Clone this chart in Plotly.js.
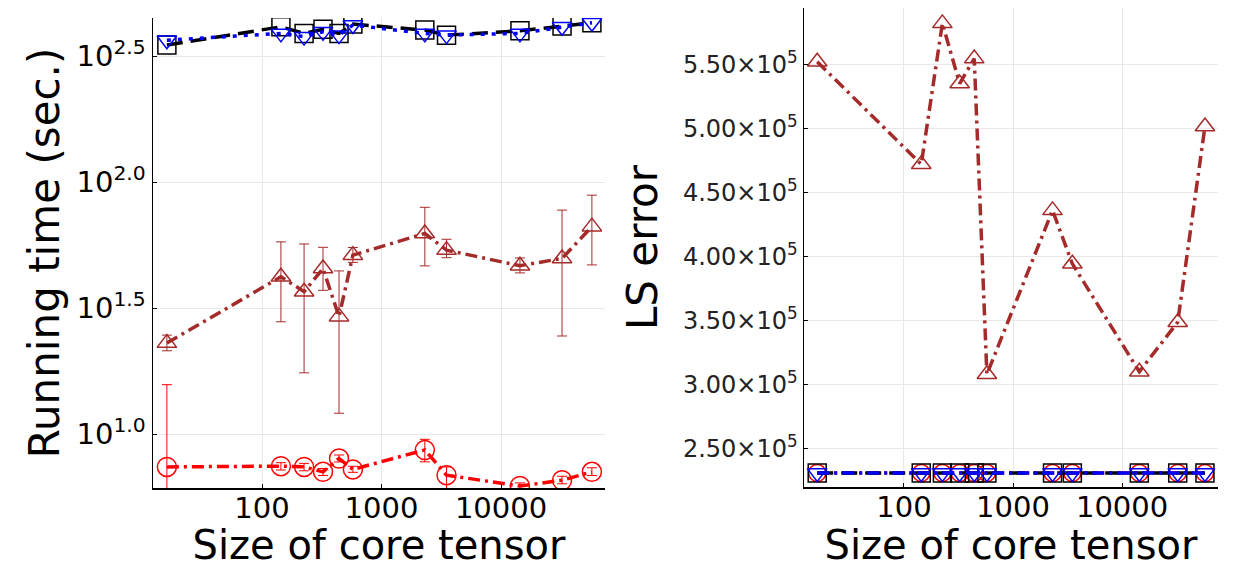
<!DOCTYPE html>
<html>
<head>
<meta charset="utf-8">
<script src="https://cdn.plot.ly/plotly-3.0.1.min.js"></script>
<style>html,body{margin:0;padding:0;background:#fff;}#chart{width:1246px;height:568px;}</style>
</head>
<body>
<div id="chart"></div>
<script>
// ---- data ----
const coreSize = [16, 144, 225, 324, 441, 576, 2304, 3500, 14400, 32400, 57600];

// Left panel: running time (sec.)
const timeBrown      = [22.96, 42.07, 36.73, 45.39, 29.24, 51.29, 62.52, 53.70, 46.56, 49.77, 66.53];
const timeBrownUpper = [24.7, 57.9, 56.8, 55.1, 44.4, 55.0, 79.4, 59.3, 50.0, 77.4, 88.7];
const timeBrownLower = [21.4, 27.9, 17.5, 37.2, 12.1, 48.0, 46.5, 50.1, 43.6, 24.5, 46.9];

const timeRed      = [7.41, 7.46, 7.41, 7.08, 8.00, 7.24, 8.65, 6.87, 6.22, 6.56, 7.08];
const timeRedUpper = [15.7, 7.70, 7.65, 7.30, 8.26, 7.45, 9.53, 7.41, 6.40, 6.80, 7.35];
const timeRedLower = [3.0, 7.20, 7.15, 6.85, 7.75, 7.05, 7.76, 6.00, 6.05, 6.35, 6.85];

const timeBlack = [349.9, 413.0, 389.0, 403.6, 389.0, 423.6, 400.9, 382.8, 398.1, 415.9, 428.5];
const timeBlue  = [365.6, 389.0, 377.6, 394.5, 382.8, 419.8, 389.0, 382.8, 389.0, 413.0, 428.5];

// Right panel: LS error
const errBrown = [552000, 472000, 582000, 535000, 554500, 308000, 436000, 394300, 310000, 348700, 501500];
const errRed   = [231000, 231000, 231000, 231000, 231000, 231000, 231000, 231000, 231000, 231000, 231000];
const errBlack = [231000, 231000, 231000, 231000, 231000, 231000, 231000, 231000, 231000, 231000, 231000];
const errBlue  = [231000, 231000, 231000, 231000, 231000, 231000, 231000, 231000, 231000, 231000, 231000];

// Tick labels
const xTickVals = [100, 1000, 10000];
const xTickText = ['100', '1000', '10000'];
const yLeftTickVals = [10, 31.6227766, 100, 316.227766];
const yLeftTickText = ['10<sup>1.0</sup>', '10<sup>1.5</sup>', '10<sup>2.0</sup>', '10<sup>2.5</sup>'];
const yRightTickVals = [250000, 300000, 350000, 400000, 450000, 500000, 550000];
const yRightTickText = ['2.50×10<sup>5</sup>', '3.00×10<sup>5</sup>', '3.50×10<sup>5</sup>', '4.00×10<sup>5</sup>', '4.50×10<sup>5</sup>', '5.00×10<sup>5</sup>', '5.50×10<sup>5</sup>'];

// ---- styles ----
const BROWN = '#a52a2a', RED = '#ff0000', BLACK = '#000000', BLUE = '#0000ff';
const DASHDOT = '12px,5px,3px,5px';
const diff = (a, b) => a.map((v, i) => v - b[i]);

const traces = [
  // left panel
  {x: coreSize, y: timeRed, xaxis: 'x', yaxis: 'y', mode: 'lines+markers',
   line: {color: RED, width: 3.5, dash: DASHDOT},
   marker: {symbol: 'circle-open', size: 19, color: RED, line: {width: 1.5}},
   error_y: {type: 'data', symmetric: false, array: diff(timeRedUpper, timeRed), arrayminus: diff(timeRed, timeRedLower), color: RED, thickness: 1, width: 5}},
  {x: coreSize, y: timeBrown, xaxis: 'x', yaxis: 'y', mode: 'lines+markers',
   line: {color: BROWN, width: 3.5, dash: DASHDOT},
   marker: {symbol: 'triangle-up-open', size: 17, color: BROWN, line: {width: 1.5}},
   error_y: {type: 'data', symmetric: false, array: diff(timeBrownUpper, timeBrown), arrayminus: diff(timeBrown, timeBrownLower), color: BROWN, thickness: 1, width: 5}},
  {x: coreSize, y: timeBlack, xaxis: 'x', yaxis: 'y', mode: 'lines+markers',
   line: {color: BLACK, width: 3.5, dash: '16px,8px'},
   marker: {symbol: 'square-open', size: 18, color: BLACK, line: {width: 1.5}}},
  {x: coreSize, y: timeBlue, xaxis: 'x', yaxis: 'y', mode: 'lines+markers',
   line: {color: BLUE, width: 3.5, dash: '4px,7px'},
   marker: {symbol: 'triangle-down-open', size: 17, color: BLUE, line: {width: 1.5}}},
  // right panel
  {x: coreSize, y: errBrown, xaxis: 'x2', yaxis: 'y2', mode: 'lines+markers',
   line: {color: BROWN, width: 3.5, dash: DASHDOT},
   marker: {symbol: 'triangle-up-open', size: 17, color: BROWN, line: {width: 1.5}}},
  {x: coreSize, y: errRed, xaxis: 'x2', yaxis: 'y2', mode: 'lines+markers',
   line: {color: RED, width: 3.5, dash: DASHDOT},
   marker: {symbol: 'circle-open', size: 17, color: RED, line: {width: 1.5}}},
  {x: coreSize, y: errBlack, xaxis: 'x2', yaxis: 'y2', mode: 'lines+markers',
   line: {color: BLACK, width: 3.5, dash: '16px,8px'},
   marker: {symbol: 'square-open', size: 18, color: BLACK, line: {width: 1.5}}},
  {x: coreSize, y: errBlue, xaxis: 'x2', yaxis: 'y2', mode: 'lines+markers',
   line: {color: BLUE, width: 3.5, dash: DASHDOT},
   marker: {symbol: 'triangle-down-open', size: 17, color: BLUE, line: {width: 1.5}}}
];

const FONT = 'DejaVu Sans, Verdana, sans-serif';
const axisCommon = {
  showline: true, linecolor: '#000', linewidth: 1.5, mirror: false,
  showgrid: true, gridcolor: '#e8e8e8', gridwidth: 1, zeroline: false,
  ticks: 'inside', ticklen: 4, tickcolor: '#000',
  tickfont: {family: FONT, size: 29, color: '#000'}
};

const layout = {
  width: 1246, height: 568,
  margin: {l: 0, r: 0, t: 0, b: 0},
  paper_bgcolor: '#fff', plot_bgcolor: '#fff',
  showlegend: false,
  font: {family: FONT, color: '#000'},
  xaxis: Object.assign({}, axisCommon, {
    domain: [153/1246, 605/1246], type: 'log', range: [1.088, 4.87],
    tickvals: xTickVals, ticktext: xTickText, anchor: 'y', ticklabelstandoff: -6,
    title: {text: 'Size of core tensor', font: {family: FONT, size: 40}, standoff: 12}
  }),
  yaxis: Object.assign({}, axisCommon, {
    domain: [80/568, 550/568], type: 'log', range: [0.786, 2.651],
    tickvals: yLeftTickVals, ticktext: yLeftTickText, anchor: 'x',
    title: {text: 'Running time (sec.)', font: {family: FONT, size: 42}, standoff: 4}
  }),
  xaxis2: Object.assign({}, axisCommon, {
    domain: [804/1246, 1218/1246], type: 'log', range: [1.083, 4.88],
    tickvals: xTickVals, ticktext: xTickText, anchor: 'y2', ticklabelstandoff: -6,
    title: {text: 'Size of core tensor', font: {family: FONT, size: 40}, standoff: 12}
  }),
  yaxis2: Object.assign({}, axisCommon, {
    domain: [81/568, 560/568], range: [220000, 594000],
    tickvals: yRightTickVals, ticktext: yRightTickText, anchor: 'x2',
    tickfont: {family: FONT, size: 24, color: '#222'},
    title: {text: 'LS error', font: {family: FONT, size: 42}, standoff: 12}
  })
};

Plotly.newPlot('chart', traces, layout, {displayModeBar: false, staticPlot: true});
</script>
</body>
</html>
